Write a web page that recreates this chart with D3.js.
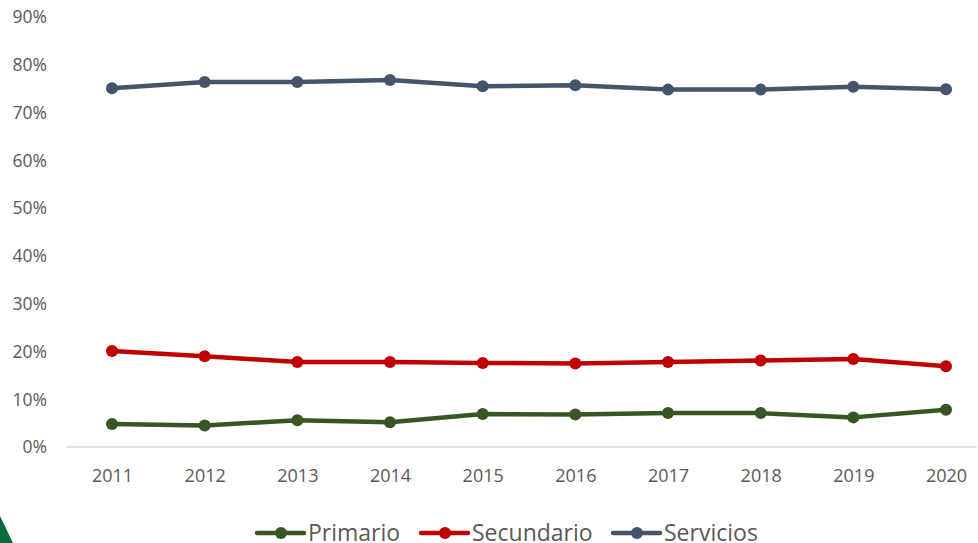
<!DOCTYPE html>
<html>
<head>
<meta charset="utf-8">
<script src="https://cdn.jsdelivr.net/npm/d3@7"></script>
<style>
body { margin: 0; background: #fff; }
text { font-family: "Open Sans", "Noto Sans", sans-serif; fill: #595959; }
</style>
</head>
<body>
<script>
var years = [2011, 2012, 2013, 2014, 2015, 2016, 2017, 2018, 2019, 2020];
var primario = [4.8, 4.5, 5.6, 5.2, 6.9, 6.8, 7.1, 7.1, 6.2, 7.8];
var secundario = [20.1, 19.0, 17.8, 17.8, 17.6, 17.5, 17.8, 18.1, 18.4, 16.9];
var servicios = [75.1, 76.4, 76.4, 76.8, 75.5, 75.7, 74.8, 74.8, 75.4, 74.9];
var yTicks = [0, 10, 20, 30, 40, 50, 60, 70, 80, 90];

var series = [
  { name: "Primario", values: primario, color: "#375623" },
  { name: "Secundario", values: secundario, color: "#c00000" },
  { name: "Servicios", values: servicios, color: "#44546a" }
];

var width = 978, height = 543;

var svg = d3.select("body").append("svg")
  .attr("width", width)
  .attr("height", height);

// logo corner
svg.append("polygon")
  .attr("points", "0,516 0,543 13,543")
  .attr("fill", "#0b6b3a");

var x = d3.scalePoint()
  .domain(years)
  .range([112, 946]);

var y = d3.scaleLinear()
  .domain([0, 90])
  .range([447, 17]);

// y labels
svg.selectAll(".ylab")
  .data(yTicks)
  .enter().append("text")
  .attr("x", 47)
  .attr("y", function(d) { return y(d); })
  .attr("dy", "0.36em")
  .attr("text-anchor", "end")
  .style("font-size", "17.5px")
  .text(function(d) { return d + "%"; });

// x axis
var xAxis = svg.append("g")
  .attr("transform", "translate(0,447)")
  .call(d3.axisBottom(x).tickSize(0).tickPadding(0));
xAxis.select(".domain").remove();
xAxis.selectAll("text")
  .attr("dy", null)
  .attr("y", 35)
  .style("font-size", "18px")
  .style("font-family", "'Open Sans', sans-serif")
  .attr("fill", "#595959");

svg.append("line")
  .attr("x1", 66).attr("x2", 977)
  .attr("y1", 447).attr("y2", 447)
  .attr("stroke", "#d9d9d9")
  .attr("stroke-width", 1.5);

var line = d3.line()
  .x(function(d, i) { return x(years[i]); })
  .y(function(d) { return y(d); });

series.forEach(function(s) {
  svg.append("path")
    .datum(s.values)
    .attr("d", line)
    .attr("fill", "none")
    .attr("stroke", s.color)
    .attr("stroke-width", 4.5)
    .attr("stroke-linejoin", "round");
  svg.selectAll(null)
    .data(s.values)
    .enter().append("circle")
    .attr("cx", function(d, i) { return x(years[i]); })
    .attr("cy", function(d) { return y(d); })
    .attr("r", 6)
    .attr("fill", s.color);
});

// legend
var legendX = [257, 421, 613];
series.forEach(function(s, i) {
  var g = svg.append("g").attr("transform", "translate(" + legendX[i] + ",533)");
  g.append("line")
    .attr("x1", 0).attr("x2", 47)
    .attr("stroke", s.color)
    .attr("stroke-width", 4.5)
    .attr("stroke-linecap", "round");
  g.append("circle").attr("cx", 24).attr("r", 6).attr("fill", s.color);
  g.append("text")
    .attr("x", 51)
    .attr("y", 8)
    .style("font-size", "23px")
    .text(s.name);
});
</script>
</body>
</html>
